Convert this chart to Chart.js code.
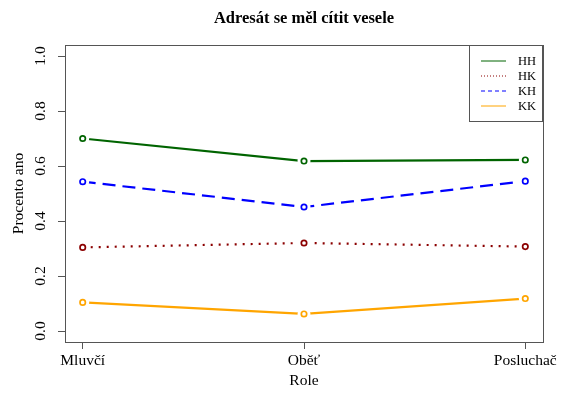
<!DOCTYPE html>
<html>
<head>
<meta charset="utf-8">
<script src="https://cdn.jsdelivr.net/npm/chart.js@4"></script>
<style>
  html, body { margin: 0; padding: 0; background: #fff; }
  #wrap { width: 561px; height: 398px; }
</style>
</head>
<body>
<div id="wrap"><canvas id="c" width="561" height="398"></canvas></div>
<script>
// Categories on the x axis
const roles = ['Mluvčí', 'Oběť', 'Posluchač'];
// Series names
const seriesNames = ['HH', 'HK', 'KH', 'KK'];
// Share of "yes" answers per role
const HH = [0.700, 0.618, 0.622];
const HK = [0.304, 0.320, 0.307];
const KH = [0.543, 0.451, 0.545];
const KK = [0.104, 0.062, 0.118];
// Y axis tick values
const yTicks = [0, 0.2, 0.4, 0.6, 0.8, 1.0];

const chartTitle = 'Adresát se měl cítit vesele';
const xTitle = 'Role';
const yTitle = 'Procento ano';

const seriesValues = { HH, HK, KH, KK };
const seriesStyle = {
  HH: { color: '#006400', dash: [],      legendDash: [] },
  HK: { color: '#8B0000', dash: [2, 6],  legendDash: [1, 2] },
  KH: { color: '#0000FF', dash: [13, 7], legendDash: [4, 3] },
  KK: { color: '#FFA500', dash: [],      legendDash: [] }
};

const SERIF = '"Liberation Serif", "Times New Roman", serif';

function pts(vals) { return vals.map((v, i) => ({ x: i + 1, y: v })); }

// Each series: a line, a white halo around each point (gap like type="b"), and the open circle
const datasets = [];
seriesNames.forEach(name => {
  const st = seriesStyle[name];
  const data = pts(seriesValues[name]);
  datasets.push({
    label: name, data, order: 3,
    borderColor: st.color, borderWidth: 2.2, borderDash: st.dash,
    borderCapStyle: 'butt', pointRadius: 0, tension: 0, fill: false
  });
  datasets.push({
    label: name + ' halo', data, order: 2, showLine: false,
    pointRadius: 6.5, pointBackgroundColor: '#ffffff', pointBorderWidth: 0,
    pointBorderColor: 'rgba(0,0,0,0)'
  });
  datasets.push({
    label: name + ' points', data, order: 1, showLine: false,
    pointRadius: 2.7, pointBackgroundColor: 'rgba(255,255,255,0)',
    pointBorderColor: st.color, pointBorderWidth: 1.7
  });
});

const framePlugin = {
  id: 'frame',
  afterDraw(chart) {
    const ctx = chart.ctx;
    const a = chart.chartArea;
    const xs = chart.scales.x, ys = chart.scales.y;
    ctx.save();

    // plot box
    ctx.strokeStyle = '#555555';
    ctx.lineWidth = 1;
    ctx.setLineDash([]);
    ctx.strokeRect(Math.round(a.left) + 0.5, Math.round(a.top) + 0.5,
                   Math.round(a.right - a.left), Math.round(a.bottom - a.top));

    ctx.fillStyle = '#000';
    ctx.font = '15.5px ' + SERIF;

    // y tick labels, rotated
    ys.ticks.forEach(t => {
      const py = ys.getPixelForValue(t.value);
      ctx.save();
      ctx.translate(a.left - 20, py);
      ctx.rotate(-Math.PI / 2);
      ctx.textAlign = 'center';
      ctx.textBaseline = 'alphabetic';
      ctx.fillText(t.value.toFixed(1), 0, 0);
      ctx.restore();
    });

    // x tick labels
    ctx.textAlign = 'center';
    ctx.textBaseline = 'alphabetic';
    xs.ticks.forEach(t => {
      const px = xs.getPixelForValue(t.value);
      ctx.fillText(roles[t.value - 1], px, a.bottom + 23);
    });

    // axis titles
    ctx.fillText(xTitle, (a.left + a.right) / 2, a.bottom + 43);
    ctx.save();
    ctx.translate(a.left - 42, (a.top + a.bottom) / 2);
    ctx.rotate(-Math.PI / 2);
    ctx.fillText(yTitle, 0, 0);
    ctx.restore();

    // main title
    ctx.font = 'bold 16.5px ' + SERIF;
    ctx.fillText(chartTitle, (a.left + a.right) / 2, 23);

    // legend box in the top-right corner
    const lw = 73, lh = 76;
    const lx = Math.round(a.right) - lw - 1, ly = Math.round(a.top);
    ctx.fillStyle = '#fff';
    ctx.fillRect(lx, ly, lw, lh);
    ctx.strokeStyle = '#555555';
    ctx.lineWidth = 1;
    ctx.strokeRect(lx + 0.5, ly + 0.5, lw, lh);
    ctx.font = '12.5px ' + SERIF;
    ctx.textAlign = 'left';
    ctx.textBaseline = 'middle';
    seriesNames.forEach((name, i) => {
      const st = seriesStyle[name];
      const rowY = ly + 16 + i * 15;
      ctx.strokeStyle = st.color;
      ctx.lineWidth = 1;
      ctx.setLineDash(st.legendDash);
      ctx.beginPath();
      ctx.moveTo(lx + 12, rowY);
      ctx.lineTo(lx + 37, rowY);
      ctx.stroke();
      ctx.setLineDash([]);
      ctx.fillStyle = '#000';
      ctx.fillText(name, lx + 49, rowY + 1);
    });

    ctx.restore();
  }
};

new Chart(document.getElementById('c'), {
  type: 'line',
  data: { datasets },
  options: {
    responsive: false,
    animation: false,
    events: [],
    layout: { padding: { left: 0, top: 45, right: 18, bottom: 0 } },
    plugins: { legend: { display: false }, tooltip: { enabled: false }, title: { display: false } },
    scales: {
      x: {
        type: 'linear', min: 0.92, max: 3.08,
        afterBuildTicks(scale) { scale.ticks = roles.map((r, i) => ({ value: i + 1 })); },
        afterFit(scale) { scale.height = 56; },
        ticks: { display: false },
        grid: { drawOnChartArea: false, drawTicks: true, tickLength: 7, color: '#555555', lineWidth: 1 },
        border: { display: false }
      },
      y: {
        type: 'linear', min: -0.04, max: 1.04,
        afterBuildTicks(scale) { scale.ticks = yTicks.map(v => ({ value: v })); },
        afterFit(scale) { scale.width = 65; },
        ticks: { display: false },
        grid: { drawOnChartArea: false, drawTicks: true, tickLength: 7, color: '#555555', lineWidth: 1 },
        border: { display: false }
      }
    }
  },
  plugins: [framePlugin]
});
</script>
</body>
</html>
